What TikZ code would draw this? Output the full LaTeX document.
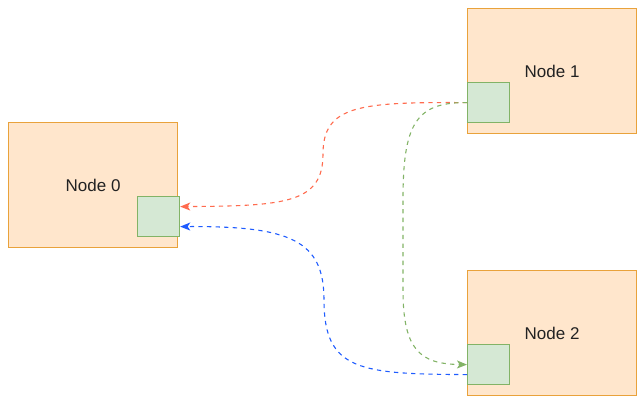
\documentclass[tikz,border=0pt]{standalone}
\usepackage{fontspec}
\setmainfont{Liberation Sans}
\usetikzlibrary{arrows.meta,calc}
\definecolor{boxfill}{HTML}{FFE6CC}
\definecolor{boxline}{HTML}{E9A23B}
\definecolor{portfill}{HTML}{D5E8D4}
\definecolor{portline}{HTML}{82B366}
\definecolor{linkred}{HTML}{FF6B4E}
\definecolor{linkblue}{HTML}{1F5CFF}
\definecolor{linkgreen}{HTML}{82B366}
\definecolor{labeltext}{HTML}{222222}
\tikzset{
  hostbox/.style={draw=boxline, fill=boxfill, line width=1.2pt, minimum width=169pt,
    minimum height=125pt, anchor=north west, inner sep=0pt, text=labeltext,
    font=\fontsize{17}{20}\selectfont},
  portbox/.style={draw=portline, fill=portfill, line width=1.2pt, minimum width=42pt,
    minimum height=40pt, anchor=north west, inner sep=0pt},
  link/.style={line width=1.1pt, dash pattern=on 4.3pt off 4.3pt,
    -{Stealth[length=10pt, width=8pt, inset=2.5pt]}}
}
\begin{document}
\begin{tikzpicture}[x=1pt,y=-1pt]
  \useasboundingbox (0,0) rectangle (637,396);
  % hosts
  \node[hostbox] (n0) at (8,122) {Node 0};
  \node[hostbox] (n1) at (467,8) {Node 1};
  \node[hostbox] (n2) at (467,270) {Node 2};
  % ports
  \node[portbox] (p0) at (137,196) {};
  \node[portbox] (p1) at (467,82) {};
  \node[portbox] (p2) at (467,344) {};
  % links
  \draw[link, draw=linkred, color=linkred] (p1.west)
    .. controls (360,102) and (323,105) .. (323,154)
    .. controls (323,203) and (286,206) .. ($(p0.east)+(0,-10)$);
  \draw[link, draw=linkgreen, color=linkgreen] (p1.west)
    .. controls (415,102) and (403,125) .. (403,200)
    -- (403,290)
    .. controls (403,350) and (420,364) .. (p2.west);
  \draw[link, draw=linkblue, color=linkblue] ($(p2.west)+(0,10)$)
    .. controls (360,374) and (324,371) .. (324,300)
    .. controls (324,240) and (290,226) .. ($(p0.east)+(0,10)$);
\end{tikzpicture}
\end{document}
